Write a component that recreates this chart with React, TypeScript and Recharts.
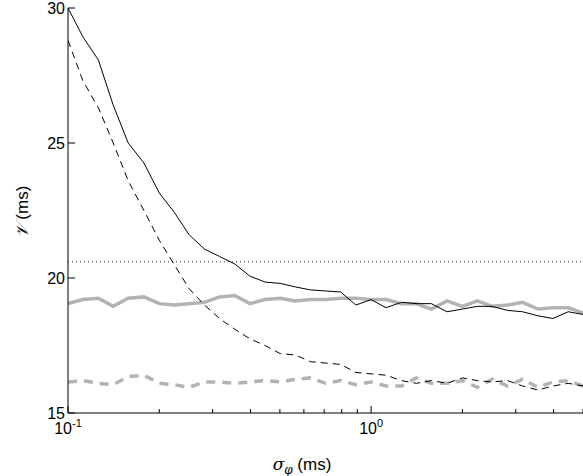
import React from 'react';
import {
  LineChart,
  Line,
  XAxis,
  YAxis,
  ReferenceLine,
  Label,
} from 'recharts';

const sigma = [
  0.1, 0.112, 0.126, 0.141, 0.158, 0.178, 0.2, 0.224, 0.251, 0.282, 0.316, 0.355,
  0.398, 0.447, 0.501, 0.562, 0.631, 0.708, 0.794, 0.891, 1, 1.12, 1.26, 1.41,
  1.58, 1.78, 2, 2.24, 2.51, 2.82, 3.16, 3.55, 3.98, 4.47, 5,
];
const blackSolid = [
  30, 28.93, 28.07, 26.4, 25, 24.26, 23.15, 22.44, 21.6, 21.07, 20.8, 20.52,
  20.07, 19.85, 19.8, 19.67, 19.56, 19.52, 19.48, 19.0, 19.2, 18.9, 19.1, 19.05,
  19.05, 18.75, 18.85, 18.95, 18.95, 18.8, 18.75, 18.6, 18.5, 18.75, 18.65,
];
const blackDashed = [
  28.8, 27.3, 26.3, 25, 23.6, 22.5, 21.4, 20.5, 19.6, 19, 18.5, 18.1, 17.75,
  17.5, 17.2, 17.15, 16.9, 16.85, 16.8, 16.5, 16.45, 16.4, 16.2, 16.1, 16.2,
  16.1, 16.3, 16.2, 16.15, 16.2, 16.0, 15.85, 16.0, 16.1, 16.0,
];
const graySolid = [
  19.05, 19.2, 19.25, 18.95, 19.25, 19.3, 19.05, 19.0, 19.05, 19.1, 19.3, 19.35,
  19.05, 19.2, 19.25, 19.15, 19.2, 19.2, 19.25, 19.25, 19.2, 19.2, 19.05, 19.05,
  18.85, 19.15, 18.95, 19.15, 18.95, 19.0, 19.1, 18.85, 18.9, 18.9, 18.7,
];
const grayDashed = [
  16.15, 16.2, 16.1, 16.05, 16.35, 16.4, 16.1, 16.05, 15.95, 16.15, 16.15, 16.1,
  16.15, 16.2, 16.15, 16.25, 16.3, 16.1, 16.2, 16.05, 16.15, 16.0, 16.0, 16.3,
  16.1, 16.1, 16.2, 15.95, 16.25, 16.0, 16.25, 15.95, 16.15, 16.2, 16.0,
];
const xTicks = [0.1, 0.2, 0.3, 0.4, 0.5, 0.6, 0.7, 0.8, 0.9, 1, 2, 3, 4, 5];
const yTicks = [15, 20, 25, 30];
const threshold = 20.6;

const data = sigma.map((s, i) => ({
  s,
  bs: blackSolid[i],
  bd: blackDashed[i],
  gs: graySolid[i],
  gd: grayDashed[i],
}));

const FONT = 'Liberation Sans, Arial, sans-serif';

const BottomTick = (props: any) => {
  const { x, y, payload } = props;
  const v = payload.value;
  const major = v === 0.1 || v === 1;
  return (
    <g>
      <line x1={x} x2={x} y1={y} y2={y - (major ? 7 : 4)} stroke="#000" />
      {major && (
        <text x={x} y={y + 21} textAnchor="middle" fontSize={16} fontFamily={FONT}>
          10
          <tspan dy={-7} fontSize={11}>{v === 1 ? '0' : '-1'}</tspan>
        </text>
      )}
    </g>
  );
};

const TopTick = (props: any) => {
  const { x, y, payload } = props;
  const major = payload.value === 0.1 || payload.value === 1;
  return <line x1={x} x2={x} y1={y} y2={y + (major ? 7 : 4)} stroke="#000" />;
};

const LeftTick = (props: any) => {
  const { x, y, payload } = props;
  return (
    <g>
      <line x1={x} x2={x + 7} y1={y} y2={y} stroke="#000" />
      <text x={x - 3} y={y + 6} textAnchor="end" fontSize={16} fontFamily={FONT}>
        {payload.value}
      </text>
    </g>
  );
};

export default function App() {
  return (
    <div style={{ position: 'absolute', left: 0, top: 0, width: 583, height: 476, background: '#fff' }}>
      <LineChart
        width={583}
        height={476}
        data={data}
        margin={{ top: 8, right: 0, left: 0, bottom: 0 }}
      >
        <XAxis
          dataKey="s"
          type="number"
          scale="log"
          domain={[0.1, 5]}
          ticks={xTicks}
          interval={0}
          allowDataOverflow
          tick={<BottomTick />}
          tickSize={0}
          tickMargin={0}
          height={63}
          stroke="#000"
        >
          <Label
            content={() => (
              <text x={302} y={470} textAnchor="middle" fontSize={17} fontFamily={FONT}>
                <tspan fontStyle="italic" fontFamily="DejaVu Serif">σ</tspan>
                <tspan dy={4} fontSize={12} fontStyle="italic" fontFamily="DejaVu Serif">φ</tspan>
                <tspan dy={-4}>  (ms)</tspan>
              </text>
            )}
          />
        </XAxis>
        <XAxis
          xAxisId="top"
          orientation="top"
          dataKey="s"
          type="number"
          scale="log"
          domain={[0.1, 5]}
          ticks={xTicks}
          interval={0}
          allowDataOverflow
          tick={<TopTick />}
          tickSize={0}
          tickMargin={0}
          height={0}
          stroke="#000"
        />
        <YAxis
          type="number"
          domain={[15, 30]}
          ticks={yTicks}
          interval={0}
          tick={<LeftTick />}
          tickSize={0}
          tickMargin={0}
          width={68}
          stroke="#000"
        >
          <Label
            content={() => (
              <text
                x={28}
                y={212}
                textAnchor="middle"
                fontSize={17}
                fontFamily={FONT}
                transform="rotate(-90 28 212)"
              >
                <tspan fontStyle="italic" fontFamily="DejaVu Serif">𝒱</tspan>
                <tspan> (ms)</tspan>
              </text>
            )}
          />
        </YAxis>
        <ReferenceLine y={threshold} stroke="#000" strokeWidth={0.8} strokeDasharray="1 3" />
        <Line
          dataKey="gs"
          type="linear"
          stroke="#b3b3b3"
          strokeWidth={3.5}
          dot={false}
          isAnimationActive={false}
        />
        <Line
          dataKey="gd"
          type="linear"
          stroke="#b3b3b3"
          strokeWidth={3.5}
          strokeDasharray="9 7"
          dot={false}
          isAnimationActive={false}
        />
        <Line
          dataKey="bs"
          type="linear"
          stroke="#000"
          strokeWidth={1}
          dot={false}
          isAnimationActive={false}
        />
        <Line
          dataKey="bd"
          type="linear"
          stroke="#000"
          strokeWidth={1}
          strokeDasharray="7 5"
          dot={false}
          isAnimationActive={false}
        />
      </LineChart>
    </div>
  );
}
